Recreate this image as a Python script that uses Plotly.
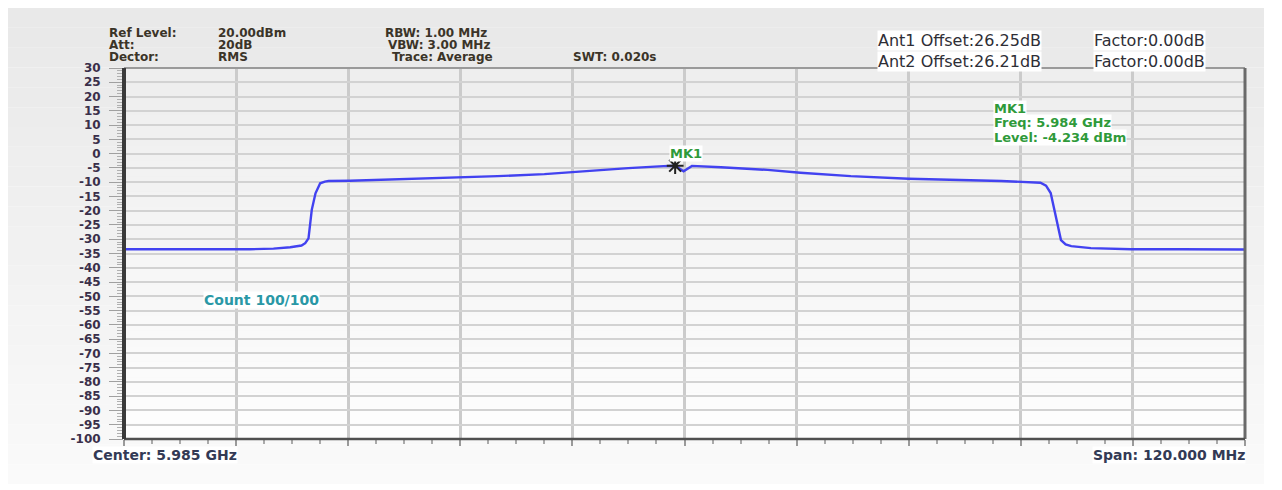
import plotly.graph_objects as go

# ---- data (frequency in MHz, level in dBm) ----
freq_mhz = [5925.0, 5930.0, 5935.0, 5938.5, 5941.0, 5942.8, 5944.0, 5944.4, 5944.75,
            5945.1, 5945.5, 5946.0, 5946.5, 5946.9, 5949.2, 5955.0, 5959.9, 5965.0,
            5970.0, 5973.0, 5976.0, 5979.0, 5982.75, 5984.0, 5984.9, 5985.8, 5988.9,
            5993.9, 5997.4, 6002.8, 6009.0, 6014.6, 6018.9, 6023.1, 6023.7, 6024.2,
            6024.9, 6025.3, 6025.8, 6026.4, 6028.5, 6032.8, 6038.0, 6045.0]
level_dbm = [-33.5, -33.5, -33.6, -33.5, -33.3, -32.8, -32.2, -31.4, -29.7,
             -19.7, -13.9, -10.4, -9.8, -9.6, -9.5, -9.0, -8.4, -7.9,
             -7.2, -6.5, -5.7, -5.1, -4.4, -4.234, -6.2, -4.3, -4.8,
             -5.7, -6.7, -7.9, -8.8, -9.2, -9.6, -10.2, -11.2, -13.8,
             -24.3, -30.3, -31.8, -32.4, -33.1, -33.5, -33.5, -33.6]
marker_freq = [5984.0]
marker_level = [-4.234]
y_ticks = list(range(-100, 31, 5))

header_left = [("Ref Level:", "20.00dBm"), ("Att:", "20dB"), ("Dector:", "RMS")]
header_mid = ["RBW: 1.00 MHz", "VBW: 3.00 MHz", "Trace: Average"]
swt_text = "SWT: 0.020s"
ant_rows = [("Ant1 Offset:26.25dB", "Factor:0.00dB"), ("Ant2 Offset:26.21dB", "Factor:0.00dB")]
mk_box = ["MK1", "Freq: 5.984 GHz", "Level: -4.234 dBm"]
center_text = "Center: 5.985 GHz"
span_text = "Span: 120.000 MHz"
count_text = "Count 100/100"

# page body has an 8px margin, so the figure is placed at (8, 8)
OX, OY = 8, 8
W, H = 1282 - OX, 490 - OY
L, T = 124 - OX, 68 - OY
R = W - (1245 - OX)
B = H - (439 - OY)
PW, PH = W - L - R, H - T - B


def px(x):
    return (x - OX - L) / PW


def py(y):
    return (H - B - (y - OY)) / PH


FONT = "DejaVu Sans"
TXT = "#3b3428"

fig = go.Figure()
fig.add_trace(go.Scatter(x=freq_mhz, y=level_dbm, mode="lines",
                         line=dict(color="rgb(66,66,240)", width=2.4), hoverinfo="skip"))
fig.add_trace(go.Scatter(x=marker_freq, y=marker_level, mode="markers",
                         marker=dict(symbol="asterisk-open", size=14, color="#222",
                                     line=dict(width=2, color="#222")), hoverinfo="skip"))

shapes = []
# outer panel gradient
n = 24
y0p, y1p = 8, 484
for i in range(n):
    ya = y0p + (y1p - y0p) * i / n
    yb = y0p + (y1p - y0p) * (i + 1) / n
    c = int(233 + (250 - 233) * i / (n - 1))
    shapes.append(dict(type="rect", xref="paper", yref="paper", x0=px(8), x1=px(1264),
                       y0=py(yb), y1=py(ya), fillcolor=f"rgb({c},{c},{c})",
                       line=dict(width=0), layer="below"))
# plot area gradient
for i in range(n):
    ya = PH * i / n
    yb = PH * (i + 1) / n
    c = int(238 + (254 - 238) * i / (n - 1))
    shapes.append(dict(type="rect", xref="paper", yref="paper", x0=0, x1=1,
                       y0=1 - yb / PH, y1=1 - ya / PH, fillcolor=f"rgb({c},{c},{c})",
                       line=dict(width=0), layer="below"))
# frame
shapes += [
    dict(type="line", xref="paper", yref="paper", x0=0, x1=1, y0=1, y1=1,
         line=dict(color="#9a9a9a", width=2)),
    dict(type="line", xref="paper", yref="paper", x0=1, x1=1, y0=0, y1=1,
         line=dict(color="#6a6a6a", width=3)),
    dict(type="line", xref="paper", yref="paper", x0=0, x1=1, y0=0, y1=0,
         line=dict(color="#505050", width=2.5)),
    dict(type="line", xref="paper", yref="paper", x0=0, x1=0, y0=0, y1=1,
         line=dict(color="#3a3a3a", width=4)),
]

HF = dict(color=TXT, family=FONT, size=12, weight="bold")
ann = []
for i, (k, v) in enumerate(header_left):
    ann.append(dict(x=px(108), y=py(33 + 12 * i), text=k, xanchor="left"))
    ann.append(dict(x=px(217), y=py(33 + 12 * i), text=v, xanchor="left"))
for i, t in enumerate(header_mid):
    ann.append(dict(x=px(384 + 3 * i + (1 if i == 2 else 0)), y=py(33 + 12 * i), text=t, xanchor="left"))
ann.append(dict(x=px(572), y=py(57), text=swt_text, xanchor="left"))
AF = dict(color="#2e2e36", family=FONT, size=16)
for i, (a, f) in enumerate(ant_rows):
    ann.append(dict(x=px(877), y=py(41 + 20 * i), text=a, xanchor="left", bgcolor="white", font=AF))
    ann.append(dict(x=px(1093), y=py(41 + 20 * i), text=f, xanchor="left", bgcolor="white", font=AF))
GF = dict(color="#2f9a3a", family=FONT, size=13, weight="bold")
for i, t in enumerate(mk_box):
    ann.append(dict(x=px(993), y=py(108 + 14.5 * i), text=t, xanchor="left", bgcolor="white", font=GF))
ann.append(dict(x=px(669), y=py(153), text="MK1", xanchor="left", bgcolor="white", font=GF))
ann.append(dict(x=px(203), y=py(300), text=count_text, xanchor="left", bgcolor="white",
                font=dict(color="#2a98a6", family=FONT, size=14, weight="bold")))
BF = dict(color="#333a55", family=FONT, size=14, weight="bold")
ann.append(dict(x=px(92), y=py(455), text=center_text, xanchor="left", bgcolor="white", font=BF))
ann.append(dict(x=px(1246), y=py(455), text=span_text, xanchor="right", bgcolor="white", font=BF))
for a in ann:
    a.setdefault("font", HF)
    a.update(xref="paper", yref="paper", yanchor="middle", showarrow=False, borderpad=0)

fig.update_layout(
    width=W, height=H, margin=dict(l=L, r=R, t=T, b=B, pad=0),
    paper_bgcolor="white", plot_bgcolor="rgba(0,0,0,0)",
    showlegend=False, shapes=shapes, annotations=ann,
    xaxis=dict(range=[5925, 6045], tick0=5925, dtick=12, showticklabels=False,
               showgrid=True, gridcolor="#cbcbcb", gridwidth=3, zeroline=False,
               ticks="outside", ticklen=6, tickwidth=2, tickcolor="#9a9a9a",
               minor=dict(dtick=3, ticks="outside", ticklen=4, tickcolor="#aaaaaa", showgrid=False),
               showline=False, fixedrange=True),
    yaxis=dict(range=[-100, 30], tickvals=y_ticks, ticktext=[str(v) for v in y_ticks],
               showgrid=True, gridcolor="#d2d2d2", gridwidth=1.5, zeroline=False,
               ticks="outside", ticklen=14, tickwidth=1, tickcolor="#a0a0a0",
               minor=dict(dtick=1, ticks="outside", ticklen=6, tickcolor="#b0b0b0", showgrid=False),
               tickfont=dict(family=FONT, size=12, color="#3a2f4a", weight="bold"),
               ticklabelstandoff=6,
               showline=False, fixedrange=True),
)
fig.write_html("out.html")
